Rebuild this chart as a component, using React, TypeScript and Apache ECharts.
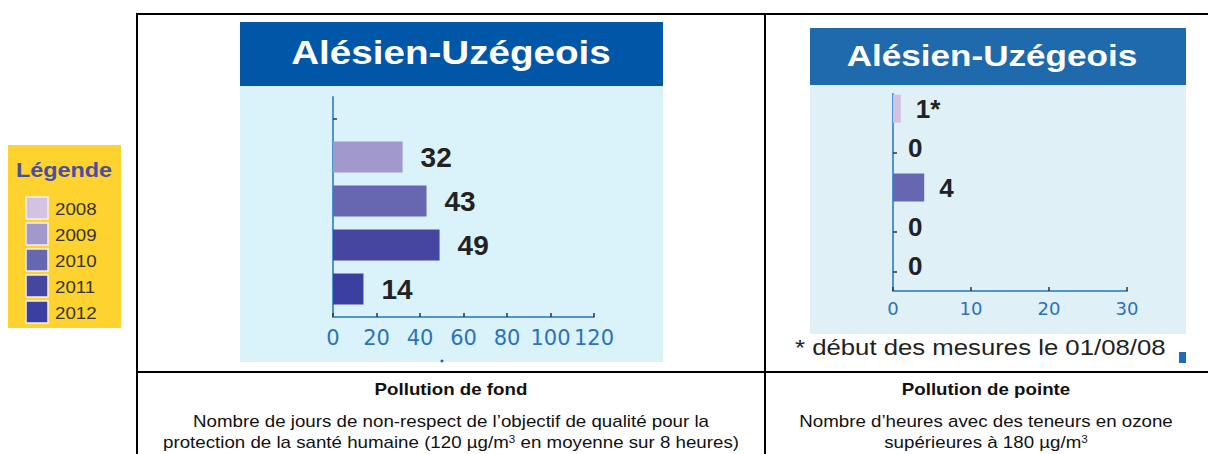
import React, { useEffect, useRef } from 'react';
import * as echarts from 'echarts';

// ---- data ----
const years = ['2008', '2009', '2010', '2011', '2012'];
const yearColors = ['#d3c3e1', '#a199cc', '#6766b0', '#4646a0', '#3b3fa0'];
const fondValues: (number | null)[] = [null, 32, 43, 49, 14];
const pointeValues = [1, 0, 4, 0, 0];
const pointeLabels = ['1*', '0', '4', '0', '0'];
const fondTicks = [0, 20, 40, 60, 80, 100, 120];
const pointeTicks = [0, 10, 20, 30];
const stationTitle = 'Alésien-Uzégeois';
const legendTitle = 'Légende';
const footnote = '* début des mesures le 01/08/08';
const fondHeading = 'Pollution de fond';
const fondLines = [
  'Nombre de jours de non-respect de l’objectif de qualité pour la',
  'protection de la santé humaine (120 µg/m{sup|3} en moyenne sur 8 heures)',
];
const pointeHeading = 'Pollution de pointe';
const pointeLines = ['Nombre d’heures avec des teneurs en ozone', 'supérieures à 180 µg/m{sup|3}'];

// ---- style ----
const SX = 1.17;
const FONT = 'Liberation Sans, Arial, sans-serif';
const AXIS_FONT = 'DejaVu Sans, sans-serif';
const axisLineColor = '#4f93d0';
const labelBlue = '#2b72b8';

const txt = (x: number, y: number, text: string, size: number, extra: any = {}) => ({
  type: 'text',
  x,
  y,
  scaleX: SX,
  z: 10,
  style: {
    text,
    fontSize: size,
    fontFamily: FONT,
    fill: '#111',
    textAlign: 'center',
    align: 'center',
    textVerticalAlign: 'middle',
    verticalAlign: 'middle',
    rich: { sup: { fontSize: 10, verticalAlign: 'top', fill: '#111' } },
    ...extra,
  },
});

const line = (x1: number, y1: number, x2: number, y2: number) => ({
  type: 'line',
  z: 10,
  shape: { x1, y1, x2, y2 },
  style: { stroke: '#000', lineWidth: 2 },
});

const valueAxis = (gridIndex: number, ticks: number[], fontSize: number, margin: number, show: boolean) => ({
  type: 'value',
  gridIndex,
  show,
  min: ticks[0],
  max: ticks[ticks.length - 1],
  interval: ticks[1] - ticks[0],
  z: 5,
  axisLine: { show: true, lineStyle: { color: axisLineColor, width: 2 } },
  axisTick: { show: true, inside: true, length: 4, lineStyle: { color: '#333', width: 1.5 } },
  axisLabel: { color: labelBlue, fontSize, fontFamily: AXIS_FONT, margin },
  splitLine: { show: false },
});

const catAxis = (gridIndex: number, show: boolean) => ({
  type: 'category',
  gridIndex,
  show,
  data: years,
  inverse: true,
  z: 5,
  axisLine: { show: true, lineStyle: { color: axisLineColor, width: 2 } },
  axisTick: { show: true, inside: true, alignWithLabel: true, length: 4, lineStyle: { color: '#333', width: 1.5 } },
  axisLabel: { show: false },
  splitLine: { show: false },
});

export default function App() {
  const ref = useRef<HTMLDivElement>(null);
  useEffect(() => {
    if (!ref.current) return;
    const chart = echarts.init(ref.current, undefined, { renderer: 'svg' });

    const legendEls: any[] = [
      { type: 'rect', z: 1, shape: { x: 8, y: 145, width: 113, height: 183 }, style: { fill: '#fed330' } },
      txt(64, 170, legendTitle, 20, { fontWeight: 'bold', fill: '#4b4e9f' }),
    ];
    years.forEach((yr, i) => {
      legendEls.push({
        type: 'rect',
        z: 2,
        shape: { x: 26, y: 197 + 26 * i, width: 22, height: 22 },
        style: { fill: yearColors[i], stroke: '#f4f0f4', lineWidth: 1.5 },
      });
      legendEls.push(txt(55, 209 + 26 * i, yr, 16, { textAlign: 'left', align: 'left', fill: '#333' }));
    });

    const option: any = {
      animation: false,
      backgroundColor: '#ffffff',
      grid: [
        { left: 333, top: 97, width: 261, height: 220 },
        { left: 333, top: 91, width: 261, height: 220 },
        { left: 893, top: 94, width: 234, height: 197 },
        { left: 893, top: 89, width: 234, height: 197 },
      ],
      xAxis: [
        valueAxis(0, fondTicks, 21, 10, true),
        valueAxis(1, fondTicks, 21, 10, false),
        valueAxis(2, pointeTicks, 18, 8, true),
        valueAxis(3, pointeTicks, 18, 8, false),
      ],
      yAxis: [catAxis(0, true), catAxis(1, false), catAxis(2, true), catAxis(3, false)],
      series: [
        {
          type: 'bar',
          xAxisIndex: 1,
          yAxisIndex: 1,
          barWidth: 31,
          z: 6,
          data: fondValues.map((v, i) => ({ value: v === null ? '-' : v, itemStyle: { color: yearColors[i] } })),
          label: {
            show: true,
            position: 'right',
            distance: 18,
            fontSize: 28,
            fontWeight: 'bold',
            fontFamily: FONT,
            color: '#222',
          },
        },
        {
          type: 'bar',
          xAxisIndex: 3,
          yAxisIndex: 3,
          barWidth: 28,
          z: 6,
          data: pointeValues.map((v, i) => ({ value: v, itemStyle: { color: yearColors[i] } })),
          label: {
            show: true,
            position: 'right',
            distance: 15,
            fontSize: 26,
            fontWeight: 'bold',
            fontFamily: FONT,
            color: '#222',
            formatter: (p: any) => pointeLabels[p.dataIndex],
          },
        },
      ],
      graphic: {
        elements: [
          // panels
          { type: 'rect', z: 0, shape: { x: 240, y: 86, width: 423, height: 276 }, style: { fill: '#daf3fb' } },
          { type: 'rect', z: 1, shape: { x: 240, y: 22, width: 423, height: 64 }, style: { fill: '#0056a7' } },
          { type: 'rect', z: 0, shape: { x: 810, y: 85, width: 376, height: 249 }, style: { fill: '#dff0f7' } },
          { type: 'rect', z: 1, shape: { x: 810, y: 28, width: 376, height: 57 }, style: { fill: '#1f69ad' } },
          txt(451, 53, stationTitle, 33, { fontWeight: 'bold', fill: '#ffffff' }),
          txt(992, 55, stationTitle, 30, { fontWeight: 'bold', fill: '#ffffff' }),
          { type: 'circle', z: 2, shape: { cx: 442, cy: 361, r: 1.5 }, style: { fill: '#2060a8' } },
          txt(795, 347, footnote, 22, { textAlign: 'left', align: 'left', fill: '#222' }),
          { type: 'rect', z: 2, shape: { x: 1179, y: 352, width: 7, height: 11 }, style: { fill: '#1f6bb5' } },
          // table
          line(136, 14, 1208, 14),
          line(137, 13, 137, 454),
          line(765, 14, 765, 454),
          line(137, 372, 1208, 372),
          // captions
          txt(451, 389, fondHeading, 16, { fontWeight: 'bold' }),
          txt(451, 421, fondLines[0], 16),
          txt(451, 442, fondLines[1], 16),
          txt(986, 389, pointeHeading, 16, { fontWeight: 'bold' }),
          txt(986, 421, pointeLines[0], 16),
          txt(986, 442, pointeLines[1], 16),
          ...legendEls,
        ],
      },
    };
    chart.setOption(option);
    return () => chart.dispose();
  }, []);
  return <div ref={ref} style={{ position: 'absolute', left: 0, top: 0, width: 1208, height: 454 }} />;
}
